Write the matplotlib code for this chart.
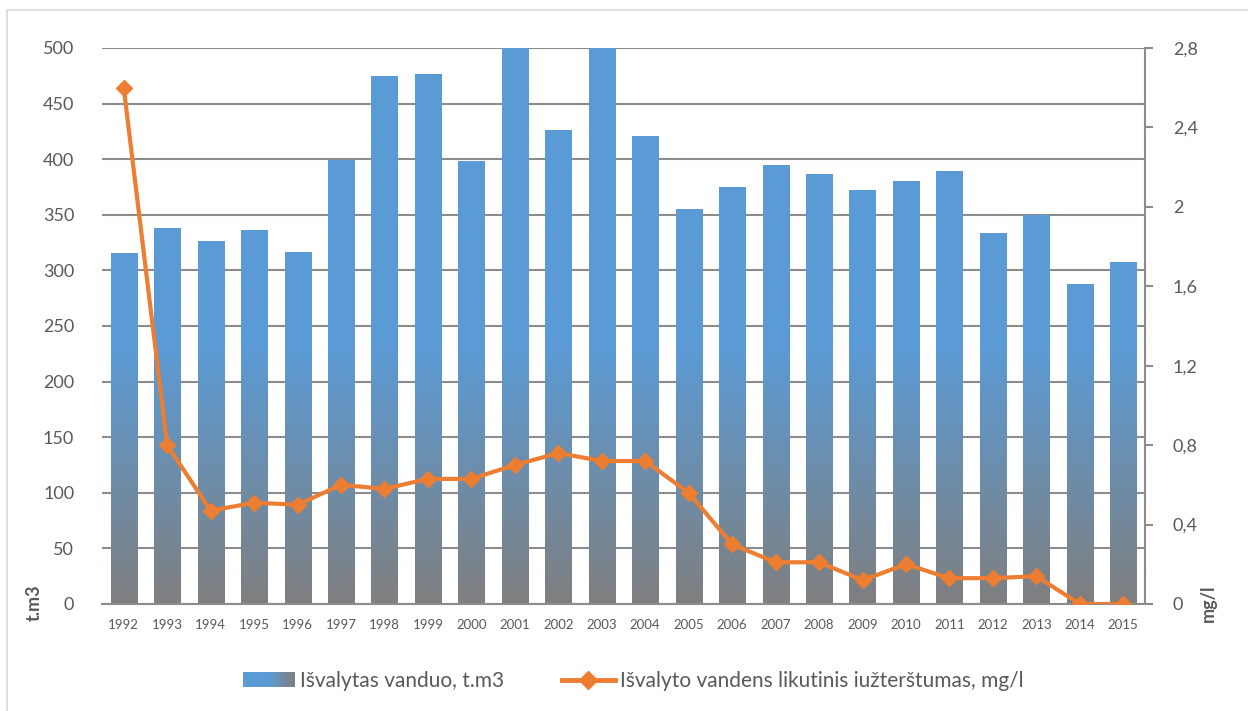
import matplotlib
matplotlib.use("Agg")
import matplotlib.pyplot as plt
import numpy as np
from matplotlib.colors import LinearSegmentedColormap, Normalize
from matplotlib.legend_handler import HandlerBase
from matplotlib.patches import Rectangle
from matplotlib.lines import Line2D
from matplotlib.ticker import FuncFormatter

plt.rcParams['font.family'] = ['Lato', 'DejaVu Sans']

# data
years = ['1992', '1993', '1994', '1995', '1996', '1997', '1998', '1999', '2000',
         '2001', '2002', '2003', '2004', '2005', '2006', '2007', '2008', '2009',
         '2010', '2011', '2012', '2013', '2014', '2015']
water = [315, 338, 326, 336, 316, 399, 474, 476, 398, 505, 426, 505, 420, 355,
         375, 394, 386, 372, 380, 389, 333, 349, 287, 307]
residual = [2.6, 0.80, 0.47, 0.51, 0.50, 0.60, 0.58, 0.63, 0.63, 0.70, 0.76, 0.72,
            0.72, 0.56, 0.30, 0.21, 0.21, 0.12, 0.20, 0.13, 0.13, 0.14, 0.0, 0.0]

bar_label = 'Išvalytas vanduo, t.m3'
line_label = 'Išvalyto vandens likutinis iužterštumas, mg/l'

blue = '#5B9BD5'
gray = '#7F7F7F'
orange = '#ED7D31'
text_col = '#595959'
grad = LinearSegmentedColormap.from_list('g', [gray, blue])

fig = plt.figure(figsize=(12.48, 7.11), dpi=100)
ax = fig.add_axes([102 / 1248, 107 / 711, 1043 / 1248, 556 / 711])

ymax = 500
x = np.arange(len(years))
bars = ax.bar(x, water, width=0.6, color='none', edgecolor='none', zorder=2)
norm = Normalize(0, 230, clip=True)
for b, h in zip(bars, water):
    top = min(h, ymax)
    vals = np.linspace(top, 0, 200).reshape(-1, 1)
    im = ax.imshow(vals, cmap=grad, norm=norm, aspect='auto', zorder=2,
                   extent=[b.get_x(), b.get_x() + b.get_width(), 0, top])

ax.set_xlim(-0.5, len(years) - 0.5)
ax.set_ylim(0, ymax)
ax.set_yticks(np.arange(0, ymax + 1, 50))
ax.set_xticks(x)
ax.set_xticklabels(years)
ax.grid(axis='y', color='#8C8C8C', lw=1.5, zorder=0)
ax.set_axisbelow(True)
for s in ['top', 'left', 'right']:
    ax.spines[s].set_visible(False)
ax.spines['bottom'].set_color('#8C8C8C')
ax.spines['bottom'].set_linewidth(1.5)
ax.tick_params(axis='y', length=0, pad=20, labelsize=13, labelcolor=text_col)
ax.tick_params(axis='x', length=0, pad=11, labelsize=9.5, labelcolor=text_col)

ax2 = ax.twinx()
ax2.plot(x, residual, color=orange, lw=3, marker='D', markersize=8, zorder=3)
ax2.set_ylim(0, 2.8)
ax2.set_yticks(np.arange(0, 2.81, 0.4))
ax2.yaxis.set_major_formatter(FuncFormatter(
    lambda v, p: ('%.1f' % v).rstrip('0').rstrip('.').replace('.', ',')))
for s in ['top', 'left', 'bottom']:
    ax2.spines[s].set_visible(False)
ax2.spines['right'].set_color('#8C8C8C')
ax2.spines['right'].set_linewidth(1.5)
ax2.tick_params(axis='y', length=6, width=1.5, color='#8C8C8C', pad=14,
                labelsize=13, labelcolor=text_col)

# axis titles sit at the bottom of the axes
fig.text(34 / 1248, 1 - 603 / 711, 't.m3', rotation=90, ha='center', va='center',
         fontsize=13, fontweight='bold', color=text_col)
fig.text(1208 / 1248, 1 - 603 / 711, 'mg/l', rotation=90, ha='center', va='center',
         fontsize=13, fontweight='bold', color=text_col)


class GradientHandler(HandlerBase):
    def create_artists(self, legend, orig, xd, yd, w, h, fs, trans):
        n = 30
        arts = []
        for i in range(n):
            t = min(1.0, 2 * (1 - i / (n - 1)))
            r = Rectangle((xd + w * i / n, yd), w / n + 0.3, h,
                          facecolor=grad(t), edgecolor='none',
                          transform=trans)
            arts.append(r)
        return arts


h_bar = Rectangle((0, 0), 1, 1)
h_line = Line2D([], [], color=orange, lw=3.5, marker='D', markersize=9)
fig.legend([h_bar, h_line], [bar_label, line_label], loc='center',
           bbox_to_anchor=(633 / 1248, 1 - 681 / 711), ncol=2, frameon=False,
           fontsize=15, labelcolor=text_col, handlelength=2.5, handleheight=0.7,
           columnspacing=2.8, handletextpad=0.25,
           handler_map={h_bar: GradientHandler()})

# chart frame (partly outside the picture)
fig.patches.append(Rectangle((7 / 1248, -0.1), 1.2, 1 - 10 / 711 + 0.1,
                             transform=fig.transFigure, fill=False,
                             edgecolor='#D9D9D9', lw=1.2))

fig.savefig('out.png', dpi=100)
